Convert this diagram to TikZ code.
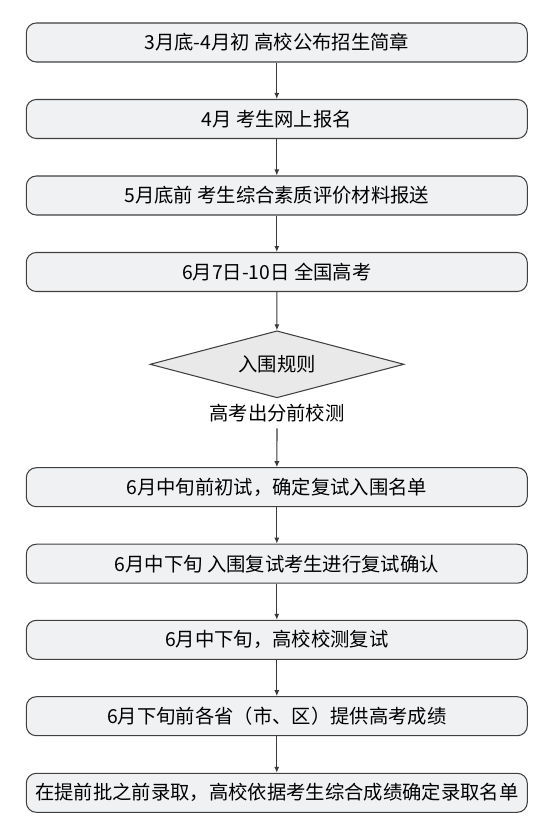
\documentclass[tikz,border=0pt]{standalone}
\usepackage{fontspec}
\setmainfont{Noto Sans CJK SC}
\usetikzlibrary{arrows.meta}
\usetikzlibrary{shapes.geometric}

\definecolor{boxgray}{HTML}{F0F1F3}
\definecolor{rulegray}{HTML}{E9E9EA}
\definecolor{linegray}{HTML}{404040}

\begin{document}
\begin{tikzpicture}[
  stage/.style={draw=linegray, fill=boxgray, line width=0.6pt, rounded corners=0.2cm, minimum width=10.02cm, minimum height=0.78cm, inner sep=0pt, font=\fontsize{11pt}{13pt}\selectfont},
  rule/.style={diamond, draw=linegray, fill=rulegray, line width=0.6pt, minimum width=5.08cm, minimum height=1.34cm, aspect=3.8, inner sep=0pt, font=\fontsize{11pt}{13pt}\selectfont},
  flow/.style={draw=linegray!90!black, line width=0.65pt, -{Latex[length=3.4pt, width=2.9pt]}}
]

\useasboundingbox (0,0) rectangle (11.08,-16.34);

\node[stage] (brochure) at (5.536,-0.85) {3月底-4月初 高校公布招生简章};
\node[stage] (signup) at (5.536,-2.38) {4月 考生网上报名};
\node[stage] (profile) at (5.536,-3.91) {5月底前 考生综合素质评价材料报送};
\node[stage] (gaokao) at (5.536,-5.44) {6月7日-10日 全国高考};

\node[rule] (rules) at (5.54,-7.286) {入围规则};
\node[font=\fontsize{11pt}{13pt}\selectfont] (schooltest) at (5.54,-8.266) {高考出分前校测};

\node[stage] (first) at (5.536,-9.744) {6月中旬前初试，确定复试入围名单};
\node[stage] (confirm) at (5.536,-11.274) {6月中下旬 入围复试考生进行复试确认};
\node[stage] (second) at (5.536,-12.796) {6月中下旬，高校校测复试};
\node[stage] (scores) at (5.536,-14.324) {6月下旬前各省（市、区）提供高考成绩};
\node[stage] (admit) at (5.536,-15.856) {在提前批之前录取，高校依据考生综合成绩确定录取名单};

\draw[flow] (brochure) -- (signup);
\draw[flow] (signup) -- (profile);
\draw[flow] (profile) -- (gaokao);
\draw[flow] (gaokao) -- (rules);
\draw[flow] (schooltest) -- (first);
\draw[flow] (first) -- (confirm);
\draw[flow] (confirm) -- (second);
\draw[flow] (second) -- (scores);
\draw[flow] (scores) -- (admit);
\end{tikzpicture}
\end{document}
